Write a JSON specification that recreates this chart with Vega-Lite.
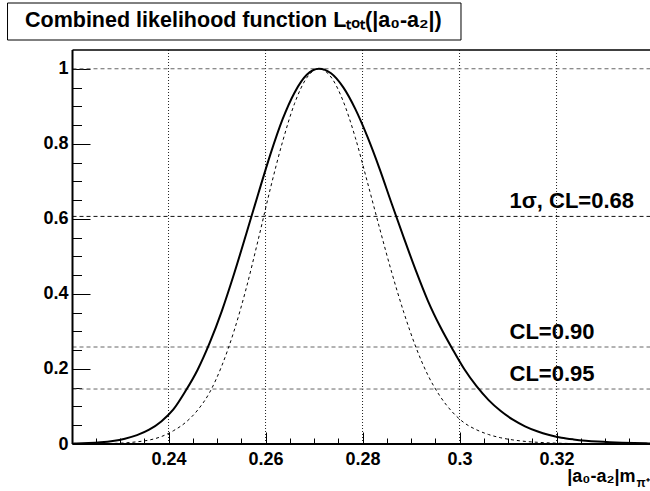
{
  "$schema": "https://vega.github.io/schema/vega-lite/v6.json",
  "width": 650,
  "height": 491,
  "autosize": {"type": "none"},
  "padding": 0,
  "background": "white",
  "config": {
    "view": {"stroke": null},
    "axis": {
      "labelFont": "Liberation Sans",
      "labelFontWeight": "bold",
      "labelFontSize": 18,
      "labelColor": "black",
      "titleFont": "Liberation Sans",
      "titleFontWeight": "bold",
      "titleColor": "black",
      "domainColor": "black",
      "tickColor": "black",
      "labelOverlap": false,
      "labelFlush": false
    }
  },
  "datasets": {
    "curves": [
      {"x": 0.2202, "combined": 0.0010, "dashed": 0.0001},
      {"x": 0.221, "combined": 0.0012, "dashed": 0.0001},
      {"x": 0.2235, "combined": 0.0024, "dashed": 0.0003},
      {"x": 0.226, "combined": 0.0045, "dashed": 0.0006},
      {"x": 0.2285, "combined": 0.008, "dashed": 0.0014},
      {"x": 0.231, "combined": 0.014, "dashed": 0.0029},
      {"x": 0.2335, "combined": 0.0235, "dashed": 0.0059},
      {"x": 0.236, "combined": 0.038, "dashed": 0.0105},
      {"x": 0.2385, "combined": 0.060, "dashed": 0.0197},
      {"x": 0.241, "combined": 0.092, "dashed": 0.0353},
      {"x": 0.2435, "combined": 0.141, "dashed": 0.0573},
      {"x": 0.246, "combined": 0.198, "dashed": 0.0903},
      {"x": 0.2485, "combined": 0.270, "dashed": 0.138},
      {"x": 0.251, "combined": 0.355, "dashed": 0.209},
      {"x": 0.2535, "combined": 0.453, "dashed": 0.301},
      {"x": 0.256, "combined": 0.559, "dashed": 0.414},
      {"x": 0.2585, "combined": 0.667, "dashed": 0.545},
      {"x": 0.261, "combined": 0.772, "dashed": 0.681},
      {"x": 0.2635, "combined": 0.865, "dashed": 0.805},
      {"x": 0.266, "combined": 0.937, "dashed": 0.908},
      {"x": 0.2685, "combined": 0.984, "dashed": 0.976},
      {"x": 0.271, "combined": 1.0, "dashed": 1.0},
      {"x": 0.2735, "combined": 0.988, "dashed": 0.978},
      {"x": 0.276, "combined": 0.951, "dashed": 0.914},
      {"x": 0.2785, "combined": 0.893, "dashed": 0.817},
      {"x": 0.281, "combined": 0.819, "dashed": 0.698},
      {"x": 0.2835, "combined": 0.734, "dashed": 0.576},
      {"x": 0.286, "combined": 0.641, "dashed": 0.458},
      {"x": 0.2885, "combined": 0.550, "dashed": 0.351},
      {"x": 0.291, "combined": 0.462, "dashed": 0.258},
      {"x": 0.2935, "combined": 0.381, "dashed": 0.183},
      {"x": 0.296, "combined": 0.313, "dashed": 0.127},
      {"x": 0.2985, "combined": 0.254, "dashed": 0.0855},
      {"x": 0.301, "combined": 0.199, "dashed": 0.0561},
      {"x": 0.3035, "combined": 0.154, "dashed": 0.0379},
      {"x": 0.306, "combined": 0.117, "dashed": 0.0252},
      {"x": 0.3085, "combined": 0.0878, "dashed": 0.0166},
      {"x": 0.311, "combined": 0.0648, "dashed": 0.0109},
      {"x": 0.3135, "combined": 0.0472, "dashed": 0.0070},
      {"x": 0.316, "combined": 0.0340, "dashed": 0.0046},
      {"x": 0.3185, "combined": 0.0241, "dashed": 0.0029},
      {"x": 0.321, "combined": 0.0169, "dashed": 0.0019},
      {"x": 0.3235, "combined": 0.0123, "dashed": 0.0012},
      {"x": 0.326, "combined": 0.0089, "dashed": 0.0008},
      {"x": 0.3285, "combined": 0.0064, "dashed": 0.0005},
      {"x": 0.331, "combined": 0.0046, "dashed": 0.0003},
      {"x": 0.3335, "combined": 0.0033, "dashed": 0.0002},
      {"x": 0.336, "combined": 0.0024, "dashed": 0.0001},
      {"x": 0.3385, "combined": 0.0017, "dashed": 0.0001},
      {"x": 0.3393, "combined": 0.0015, "dashed": 0.0001}
    ],
    "levels": [
      {"level": 1.0, "label": "", "kind": "max"},
      {"level": 0.6065, "label": "1σ, CL=0.68", "kind": "sigma"},
      {"level": 0.2585, "label": "CL=0.90", "kind": "cl"},
      {"level": 0.1465, "label": "CL=0.95", "kind": "cl"}
    ],
    "gridx": [
      {"tick": 0.24}, {"tick": 0.26}, {"tick": 0.28}, {"tick": 0.30}, {"tick": 0.32}
    ],
    "titles": [
      {"text": "Combined likelihood function Lₜₒₜ(|a₀-a₂|)"}
    ]
  },
  "layer": [
    {
      "data": {"name": "titles"},
      "mark": {"type": "rect", "fill": "white", "stroke": "black", "strokeWidth": 1},
      "encoding": {
        "x": {"datum": 0.2068, "type": "quantitative", "axis": null},
        "x2": {"datum": 0.3003},
        "y": {"datum": 1.17525, "type": "quantitative", "axis": null},
        "y2": {"datum": 1.07665}
      }
    },
    {
      "data": {"name": "titles"},
      "mark": {"type": "text", "align": "left", "baseline": "alphabetic", "font": "Liberation Sans", "fontWeight": "bold", "fontSize": 21.5, "color": "black"},
      "encoding": {
        "x": {"datum": 0.2104, "type": "quantitative", "axis": null},
        "y": {"datum": 1.1113, "type": "quantitative", "axis": null},
        "text": {"field": "text"}
      }
    },
    {
      "data": {"name": "gridx"},
      "mark": {"type": "rule", "color": "#222222", "strokeWidth": 1, "strokeDash": [1, 2]},
      "encoding": {
        "x": {"field": "tick", "type": "quantitative", "axis": null},
        "y": {"datum": 0, "type": "quantitative", "axis": null},
        "y2": {"datum": 1.05}
      }
    },
    {
      "data": {"name": "levels"},
      "mark": {"type": "rule", "strokeWidth": 1, "strokeDash": [4, 3]},
      "encoding": {
        "x": {"datum": 0.2202, "type": "quantitative", "axis": null},
        "x2": {"datum": 0.33927},
        "y": {
          "field": "level", "type": "quantitative",
          "axis": {"orient": "left", "offset": -90, "values": [0, 0.2, 0.4, 0.6, 0.8, 1], "tickSize": 17.5, "tickWidth": 1, "labels": false, "domain": false, "grid": false, "title": null}
        },
        "color": {
          "condition": {"test": "datum.kind == 'sigma'", "value": "#111111"},
          "value": "#666666"
        }
      }
    },
    {
      "data": {"name": "curves"},
      "mark": {"type": "line", "color": "black", "strokeWidth": 1, "strokeDash": [3, 3], "interpolate": "monotone"},
      "encoding": {
        "x": {
          "field": "x", "type": "quantitative",
          "scale": {"domain": [0.20525, 0.33927], "nice": false, "zero": false},
          "axis": {"orient": "bottom", "offset": -53, "values": [0.225, 0.23, 0.235, 0.245, 0.25, 0.255, 0.265, 0.27, 0.275, 0.285, 0.29, 0.295, 0.305, 0.31, 0.315, 0.325, 0.33, 0.335], "tickSize": 6, "tickWidth": 1, "labels": false, "domain": false, "grid": false,
            "title": "π⁺", "titleFontSize": 12, "titleAnchor": "start", "titleAlign": "left", "titleBaseline": "alphabetic", "titleX": 636, "titleY": 48}
        },
        "y": {
          "field": "dashed", "type": "quantitative",
          "scale": {"domain": [-0.12525, 1.18325], "nice": false, "zero": false},
          "axis": {"orient": "left", "offset": -81.5, "values": [0.05, 0.1, 0.15, 0.25, 0.3, 0.35, 0.45, 0.5, 0.55, 0.65, 0.7, 0.75, 0.85, 0.9, 0.95], "tickSize": 9, "tickWidth": 1, "labels": false, "domain": false, "grid": false, "title": null}
        }
      }
    },
    {
      "data": {"name": "curves"},
      "mark": {"type": "line", "color": "black", "strokeWidth": 2, "interpolate": "monotone"},
      "encoding": {
        "x": {
          "field": "x", "type": "quantitative",
          "scale": {"domain": [0.20525, 0.33927], "nice": false, "zero": false},
          "axis": {"orient": "bottom", "offset": -47, "values": [0.24, 0.26, 0.28, 0.3, 0.32], "format": "~g", "ticks": false, "labelPadding": 6, "domain": false, "grid": false,
            "title": "|a₀-a₂|m", "titleFontSize": 18, "titleAnchor": "start", "titleAlign": "right", "titleBaseline": "alphabetic", "titleX": 635, "titleY": 37}
        },
        "y": {
          "field": "combined", "type": "quantitative",
          "scale": {"domain": [-0.12525, 1.18325], "nice": false, "zero": false},
          "axis": {"orient": "left", "offset": -72.5, "values": [0, 0.2, 0.4, 0.6, 0.8, 1], "format": "~g", "ticks": false, "labelPadding": 4.5, "domain": false, "grid": false, "title": null}
        }
      }
    },
    {
      "mark": {"type": "rule", "color": "#666666", "strokeWidth": 1.5},
      "encoding": {
        "x": {
          "datum": 0.271, "type": "quantitative",
          "axis": {"orient": "bottom", "offset": -59, "values": [0.24, 0.26, 0.28, 0.3, 0.32], "tickSize": 12, "tickWidth": 1, "labels": false, "domain": false, "grid": false, "title": null}
        },
        "y": {"datum": 0, "type": "quantitative", "axis": null},
        "y2": {"datum": 1}
      }
    },
    {
      "data": {"name": "curves"},
      "mark": {"type": "rule", "color": "black", "strokeWidth": 1.5},
      "encoding": {
        "x": {"aggregate": "min", "field": "x", "type": "quantitative", "axis": null},
        "x2": {"aggregate": "max", "field": "x"},
        "y": {"datum": 1.05, "type": "quantitative", "axis": null}
      }
    },
    {
      "data": {"name": "curves"},
      "mark": {"type": "rule", "color": "black", "strokeWidth": 2},
      "encoding": {
        "x": {"aggregate": "min", "field": "x", "type": "quantitative", "axis": null},
        "x2": {"aggregate": "max", "field": "x"},
        "y": {"datum": 0, "type": "quantitative", "axis": null}
      }
    },
    {
      "data": {"name": "curves"},
      "mark": {"type": "rule", "color": "black", "strokeWidth": 2},
      "encoding": {
        "x": {"aggregate": "min", "field": "x", "type": "quantitative", "axis": null},
        "y": {"datum": 0, "type": "quantitative", "axis": null},
        "y2": {"datum": 1.05}
      }
    },
    {
      "data": {"name": "levels"},
      "transform": [{"filter": "datum.label != ''"}],
      "mark": {"type": "text", "align": "left", "baseline": "alphabetic", "dy": -8, "font": "Liberation Sans", "fontWeight": "bold", "fontSize": 22, "color": "black"},
      "encoding": {
        "x": {"datum": 0.3103, "type": "quantitative", "axis": null},
        "y": {"field": "level", "type": "quantitative", "axis": null},
        "text": {"field": "label"}
      }
    }
  ],
  "resolve": {"axis": {"x": "independent", "y": "independent"}}
}
